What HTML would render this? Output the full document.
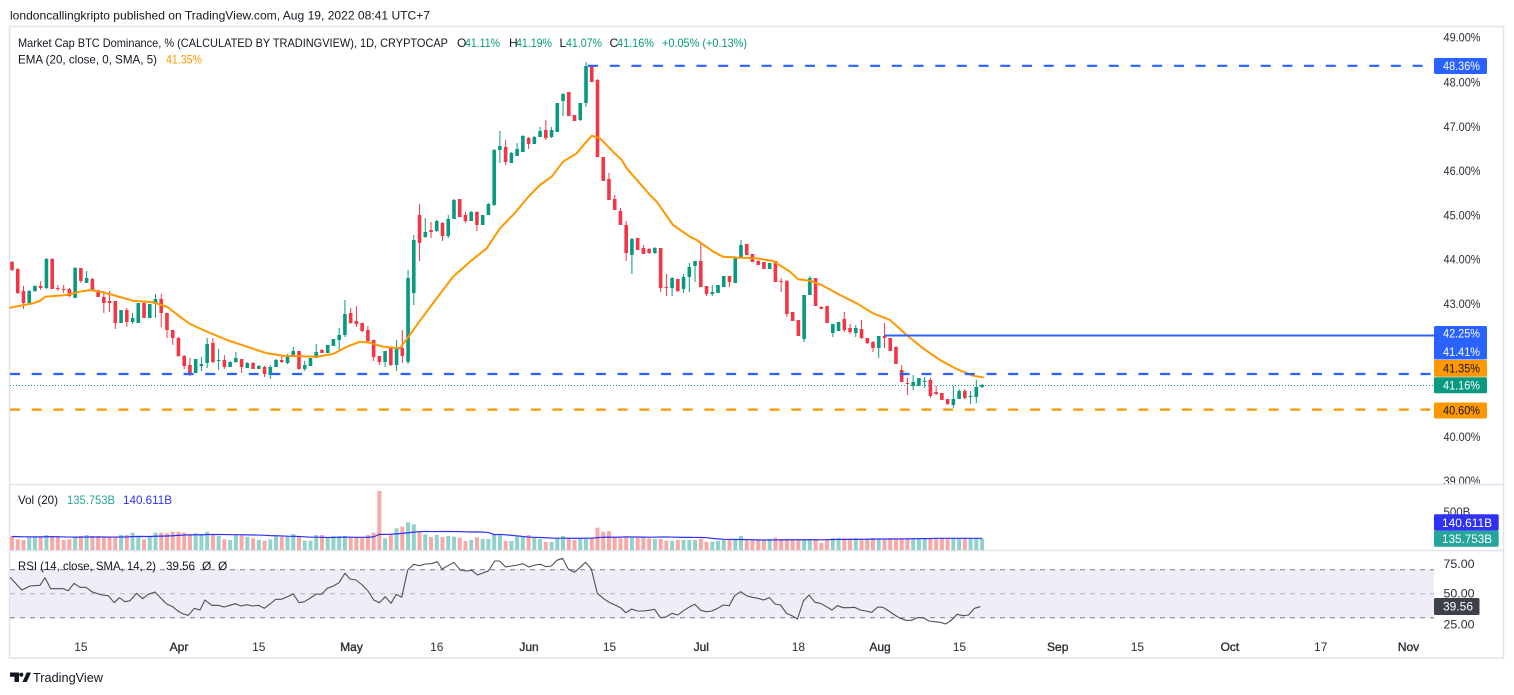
<!DOCTYPE html>
<html><head><meta charset="utf-8">
<style>
html,body{margin:0;padding:0;background:#fff;}
svg{display:block;}
text{font-family:"Liberation Sans",Arial,sans-serif;}
</style></head>
<body>
<svg id="c" width="1514" height="695" viewBox="0 0 1514 695" xmlns="http://www.w3.org/2000/svg">
<rect x="0" y="0" width="1514" height="695" fill="#ffffff"/>
<text x="10" y="19.3" font-size="12" fill="#131722" textLength="420" lengthAdjust="spacingAndGlyphs">londoncallingkripto published on TradingView.com, Aug 19, 2022 08:41 UTC+7</text>
<rect x="9.5" y="26.5" width="1494" height="631.5" fill="none" stroke="#e0e3eb" stroke-width="1.5"/>
<line x1="9.5" y1="484.5" x2="1503.5" y2="484.5" stroke="#e0e3eb" stroke-width="1.5"/>
<line x1="9.5" y1="550.5" x2="1503.5" y2="550.5" stroke="#e0e3eb" stroke-width="1.5"/>
<rect x="10" y="569.7" width="1424" height="48" fill="#f0edf8"/>
<line x1="10" y1="569.7" x2="1434" y2="569.7" stroke="#787b86" stroke-width="1" stroke-dasharray="5,5"/>
<line x1="10" y1="593.7" x2="1434" y2="593.7" stroke="#b2b5be" stroke-width="1" stroke-dasharray="5,5"/>
<line x1="10" y1="617.7" x2="1434" y2="617.7" stroke="#787b86" stroke-width="1" stroke-dasharray="5,5"/>
<g id="dyn"></g>
<text x="18" y="47" font-size="12" fill="#131722" textLength="430" lengthAdjust="spacingAndGlyphs">Market Cap BTC Dominance, % (CALCULATED BY TRADINGVIEW), 1D, CRYPTOCAP</text>
<text x="457" y="47" font-size="12" fill="#131722">O</text>
<text x="465" y="47" font-size="12" fill="#089981" textLength="35" lengthAdjust="spacingAndGlyphs">41.11%</text>
<text x="509" y="47" font-size="12" fill="#131722">H</text>
<text x="516" y="47" font-size="12" fill="#089981" textLength="36" lengthAdjust="spacingAndGlyphs">41.19%</text>
<text x="559.5" y="47" font-size="12" fill="#131722">L</text>
<text x="566" y="47" font-size="12" fill="#089981" textLength="36" lengthAdjust="spacingAndGlyphs">41.07%</text>
<text x="609.5" y="47" font-size="12" fill="#131722">C</text>
<text x="617" y="47" font-size="12" fill="#089981" textLength="37" lengthAdjust="spacingAndGlyphs">41.16%</text>
<text x="662" y="47" font-size="12" fill="#089981" textLength="85" lengthAdjust="spacingAndGlyphs">+0.05% (+0.13%)</text>
<text x="18" y="63.5" font-size="12" fill="#131722" textLength="139" lengthAdjust="spacingAndGlyphs">EMA (20, close, 0, SMA, 5)</text>
<text x="166" y="63.5" font-size="12" fill="#ff9800" textLength="36" lengthAdjust="spacingAndGlyphs">41.35%</text>
<text x="18" y="504" font-size="12" fill="#131722" textLength="40" lengthAdjust="spacingAndGlyphs">Vol (20)</text>
<text x="67" y="504" font-size="12" fill="#26a69a" textLength="48" lengthAdjust="spacingAndGlyphs">135.753B</text>
<text x="123" y="504" font-size="12" fill="#3131f5" textLength="49" lengthAdjust="spacingAndGlyphs">140.611B</text>
<text x="18" y="570" font-size="12" fill="#131722" textLength="138" lengthAdjust="spacingAndGlyphs">RSI (14, close, SMA, 14, 2)</text>
<text x="166" y="570" font-size="12" fill="#131722" textLength="29" lengthAdjust="spacingAndGlyphs">39.56</text>
<text x="202" y="570" font-size="12" fill="#131722">Ø</text>
<text x="218" y="570" font-size="12" fill="#131722">Ø</text>
<g font-size="11.5" fill="#2a2e39">
<text x="1443.5" y="41.5" textLength="37" lengthAdjust="spacingAndGlyphs">49.00%</text>
<text x="1443.5" y="86.5" textLength="37" lengthAdjust="spacingAndGlyphs">48.00%</text>
<text x="1443.5" y="130.8" textLength="37" lengthAdjust="spacingAndGlyphs">47.00%</text>
<text x="1443.5" y="175.1" textLength="37" lengthAdjust="spacingAndGlyphs">46.00%</text>
<text x="1443.5" y="219.4" textLength="37" lengthAdjust="spacingAndGlyphs">45.00%</text>
<text x="1443.5" y="263.7" textLength="37" lengthAdjust="spacingAndGlyphs">44.00%</text>
<text x="1443.5" y="308" textLength="37" lengthAdjust="spacingAndGlyphs">43.00%</text>
<text x="1443.5" y="440.9" textLength="37" lengthAdjust="spacingAndGlyphs">40.00%</text>
</g>
<svg x="1434" y="470" width="70" height="13.5" overflow="hidden"><text x="9.5" y="15.2" font-size="11.5" fill="#2a2e39" textLength="37" lengthAdjust="spacingAndGlyphs">39.00%</text></svg>
<rect x="1434" y="58" width="53" height="16" rx="1.5" fill="#2962ff"/>
<text x="1443" y="70.2" font-size="11.5" fill="#fff" textLength="37" lengthAdjust="spacingAndGlyphs">48.36%</text>
<rect x="1434" y="326" width="53" height="33.5" rx="1.5" fill="#2962ff"/>
<text x="1443" y="337.6" font-size="11.5" fill="#fff" textLength="37" lengthAdjust="spacingAndGlyphs">42.25%</text>
<text x="1443" y="356" font-size="11.5" fill="#fff" textLength="37" lengthAdjust="spacingAndGlyphs">41.41%</text>
<rect x="1434" y="360" width="53" height="16.7" rx="1.5" fill="#ff9800"/>
<text x="1443" y="372.5" font-size="11.5" fill="#131722" textLength="37" lengthAdjust="spacingAndGlyphs">41.35%</text>
<rect x="1434" y="377.3" width="53" height="16" rx="1.5" fill="#089981"/>
<text x="1443" y="389.6" font-size="11.5" fill="#fff" textLength="37" lengthAdjust="spacingAndGlyphs">41.16%</text>
<rect x="1434" y="402.5" width="53" height="16" rx="1.5" fill="#ff9800"/>
<text x="1443" y="414.5" font-size="11.5" fill="#131722" textLength="37" lengthAdjust="spacingAndGlyphs">40.60%</text>
<text x="1443.5" y="516" font-size="11.5" fill="#2a2e39">500B</text>
<rect x="1434" y="514.3" width="64.7" height="16.4" rx="1.5" fill="#3131f5"/>
<text x="1442" y="526.8" font-size="11.5" fill="#fff" textLength="50" lengthAdjust="spacingAndGlyphs">140.611B</text>
<rect x="1434" y="530.7" width="64.7" height="16" rx="1.5" fill="#26a69a"/>
<text x="1442" y="542.9" font-size="11.5" fill="#fff" textLength="50" lengthAdjust="spacingAndGlyphs">135.753B</text>
<text x="1443.5" y="567.8" font-size="11.5" fill="#2a2e39" textLength="31" lengthAdjust="spacingAndGlyphs">75.00</text>
<text x="1443.5" y="597.6" font-size="11.5" fill="#2a2e39" textLength="31" lengthAdjust="spacingAndGlyphs">50.00</text>
<text x="1443.5" y="628.3" font-size="11.5" fill="#2a2e39" textLength="31" lengthAdjust="spacingAndGlyphs">25.00</text>
<rect x="1434" y="598" width="45.5" height="17" rx="1.5" fill="#3d3f49"/>
<text x="1443" y="610.7" font-size="11.5" fill="#fff" textLength="30" lengthAdjust="spacingAndGlyphs">39.56</text>
<g id="xax" font-size="12" fill="#2a2e39" text-anchor="middle"></g>
<path d="M10 672.5 h9 v9.5 h-4.5 v-5.3 h-4.5z" fill="#131722"/>
<circle cx="21.3" cy="674.7" r="2.1" fill="#131722"/>
<polygon points="22.5,682 26.8,682 31,672.5 26.7,672.5" fill="#131722"/>
<text x="33" y="682" font-size="13" fill="#131722" textLength="70" lengthAdjust="spacingAndGlyphs">TradingView</text>
</svg>
<script>
const C=[
[262,270,261,271],[269,293,268,294],[291,303,286,309],[303,291,290,304],[291,286,285,292],
[286,288,281,290],[288,259,258,289],[259,289,258,289],[288,289,285,291],[289,290,285,293],
[289,296,288,297],[298,268,267,298],[268,281,268,283],[283,278,271,283],[279,291,278,291],
[290,297,290,297],[297,303,291,313],[301,303,291,312],[301,323,301,329],[323,310,310,323],
[310,322,308,327],[322,318,313,324],[323,303,303,323],[303,318,303,318],[318,304,304,318],
[304,299,294,318],[299,313,294,327],[313,330,313,338],[330,338,330,345],[338,356,337,357],
[356,366,355,369],[365,373,358,376],[373,359,359,373],[366,364,357,371],[363,344,338,368],
[343,362,338,363],[361,360,349,370],[360,367,355,369],[367,362,361,367],[362,358,352,363],
[359,367,359,373],[368,363,362,368],[363,369,362,369],[369,366,365,369],[367,374,366,377],
[375,367,365,379],[367,360,359,367],[360,362,356,363],[363,356,354,364],[356,351,347,356],
[351,369,351,370],[369,365,361,371],[366,358,358,366],[358,352,344,358],[350,353,349,353],
[353,345,345,353],[346,339,339,346],[340,335,328,350],[335,314,300,337],[313,323,308,324],
[321,324,306,327],[323,331,323,332],[330,341,326,342],[340,357,340,361],[356,362,356,365],
[362,351,351,367],[348,365,348,366],[365,348,340,371],[348,356,330,363],[362,278,270,364],
[293,240,235,305],[215,243,204,261],[237,232,218,238],[230,232,222,238],[231,221,220,232],
[223,236,222,241],[236,219,215,238],[219,200,199,219],[199,217,199,217],[215,221,212,223],
[221,212,211,221],[212,225,211,231],[225,215,215,225],[215,204,203,215],[205,150,149,206],
[150,146,131,163],[147,162,140,165],[163,153,152,163],[156,149,143,156],[152,136,135,152],
[138,144,137,149],[144,137,136,144],[137,131,127,137],[130,138,120,140],[137,130,127,138],
[132,103,103,132],[101,94,93,116],[92,116,92,116],[115,121,115,121],[120,103,103,121],
[103,66,62,107],[66,82,66,82],[80,157,79,157],[157,181,157,181],[179,200,173,200],
[199,210,195,210],[211,225,208,225],[225,253,221,261],[255,239,238,274],[238,250,238,250],
[248,254,245,254],[249,253,248,254],[253,248,247,254],[248,288,248,292],[287,288,274,296],
[288,278,277,296],[279,291,279,292],[289,277,274,293],[277,267,263,292],[266,261,261,282],
[261,287,243,287],[286,294,286,296],[294,292,285,296],[293,285,285,293],[287,276,276,287],
[276,282,276,287],[283,257,257,283],[257,245,240,257],[244,255,244,255],[254,262,254,262],
[261,265,260,265],[262,269,262,269],[269,263,263,269],[261,282,261,282],[281,282,278,292],
[281,314,280,317],[312,321,312,321],[320,336,320,336],[339,295,295,342],[295,278,276,295],
[278,306,278,306],[307,309,306,309],[306,323,306,323],[333,324,324,337],[331,322,322,331],
[319,330,312,332],[328,332,324,334],[333,328,325,337],[329,338,320,339],[338,343,338,344],
[342,348,341,352],[348,336,336,358],[336,338,323,348],[338,351,338,351],[347,364,346,364],
[370,382,365,382],[383,384,378,395],[386,382,375,390],[386,378,378,386],[382,381,377,388],
[380,396,378,398],[392,394,386,395],[393,400,393,400],[399,404,399,405],[405,399,386,408],
[399,391,389,399],[391,398,389,399],[397,396,391,404],[397,387,380,403],[387,385,384,388]];
const V=[536,539.3,540,537.3,536.7,536.7,535,536,536.7,540,
539.3,537.3,536,535,536,536,537.3,537.3,536.7,535,
535,532.7,536,539.3,536,532.7,532.7,533.3,531.7,531.7,
532.7,535,533.3,535,531.7,535,536,539.3,540,535,
535,536.7,538.3,540,540.7,539.3,536,536.7,536.7,534,
536.7,540.7,540.7,535,535,537.3,536,536,536,537.3,
537.3,538.3,535,532.7,491,538.3,535,528.3,526.7,522.3,
524.3,532.7,534.3,537,535,537,536,536.7,537.7,541,
540,537.3,539,539,534.3,535,541,541,536,536,
535,537.7,539,542,542,538.3,536,538.3,540,538.3,
538.3,537.7,527.7,531.7,531,537.7,538.3,536.7,536.7,537.7,
537.7,538.3,539,539,540.7,540.7,540,540,540,540,
539,542,541.7,541,540,540,540,536,540.3,540.3,
540.3,540.3,539,537.7,539,539,540,540,540,540,
539,543,539,538,538,538.5,538.5,538,538.5,538.5,
538,538.5,538.5,538,538.5,538,538.5,538.5,538,538.5,
538.5,538,538.5,538.5,538,538.5,538.5,538,538.5,538.5];
const EMA="10,307.7 33,303.3 40,301 45,296.7 66.7,295 80,291.7 90,290 100,291.7 113,295 133,300.7 153,302.3 167,306.7 180,316.7 190,324 207,331.7 227,340 247,346.7 267,353.3 283,355.7 317,356.7 333,354 347,346.7 360,341.7 370,342.7 383,346.7 400,348.3 420,320.7 431.7,305 453,276.7 470,261.7 486.7,248.3 500,228.3 513,215 530,195 540,185 551.7,176.7 563,161.7 576.7,153.3 585,143.3 591.7,135.7 600,138.3 613,151.7 621.7,160 626.7,168.3 650,195 656.7,201.7 673,225 690,236.7 696.7,240 713.3,251.7 723,256.7 740,257.7 756.7,258.3 773,261 790,271.7 798,279.3 810,280.7 823,285.7 840,295 856.7,303.3 873,313.3 890,320 906.7,335 923,348.3 940,360 956.7,369 973,375.7 983,377.3";
const RSI="10,577.3 21.7,590 30,586 40,585.3 45,577.7 50.7,588.7 63.3,588.7 68.3,590.7 74,583.3 80,587.3 86,587.3 91.7,591.7 101.7,595 108.3,595.7 114.3,602.7 119.3,597.7 125,601.7 130,600.7 136.7,593.3 142.7,598.7 148.3,594.3 155,592 160,597.3 166.7,604 172.7,606.7 177.7,611 183.3,614 188.3,615.3 194.3,608.3 200,610 205,600 211.7,605.3 218.3,605.3 224,607 230,605.3 235.3,603.7 241,606 246.7,604.7 252.7,606 258.3,605.3 264.3,608.3 270,604 275.7,599.3 281.7,599.3 287.3,596.7 293.3,594 299,602.7 304.3,601.7 310,598.3 316,594 321.7,594.3 327.3,588.3 333.3,586 339,582.7 345,573.3 350,579 356,580 362.3,585 368,591 373.7,600 379.3,602.7 385.3,596.7 391,603.3 396.3,594.3 401.7,597.3 407.7,570 413.6,564.3 419.5,565.7 425.4,564 431.4,563.7 437.3,561.7 442,569 448,565.7 453.9,562.3 460.2,570 466.1,571 471.6,570.3 477.6,575 483.5,572.7 488.6,570.7 494.6,561 499.7,561 505.6,567 511.5,566 517.5,565 523,563.7 528.9,567 534.8,565 540.4,564.3 545.9,566.7 551.4,566 557,560.3 562.5,558.3 568.4,569.3 574.3,572.3 579.9,567.7 585.4,562.3 591.3,569 597.3,593.3 603.2,598.3 609.1,602.3 615,605 620.6,607.7 625.7,612.7 631.6,609 637.5,611 643.5,611 649,610.3 654.5,609.3 660.5,617.7 666,617 671.9,613.3 677.8,615 683.4,610.7 688.9,607.3 694.8,604.3 700.7,610.3 706.3,611.7 711.8,611 717.7,608.3 723.3,605 729.2,605.7 734.7,595.7 740.6,591.7 746.6,595.7 752.1,597.3 758,598.3 763.5,600 769.5,597.7 775,604 780.5,605 786.5,613.3 792,615.7 797.5,619 803.4,601 809,595 814.9,602.3 820.4,603.3 826.4,606.7 831.9,610 837.4,605.7 843.3,607.7 848.9,607.7 854.4,607.3 860.3,610 865.9,611 871.8,612.3 877.7,607 882.8,607.3 888.8,611 894.7,615 900.2,618.3 906.1,620.3 911.7,620.3 917.2,617.7 923.1,617.7 929,621 934.6,621.7 940.1,622.3 945.6,624 951.6,620 957.1,614.3 963,615.7 968.6,615 974.5,608.3 980.5,606.7";
const X0=12,DX=5.74,BASE=550;
let h='';
V.forEach((t,i)=>{const x=X0+i*DX;const c=C[i];const up=c[1]<c[0];
 h+=`<rect x="${(x-2).toFixed(2)}" y="${t}" width="4" height="${(BASE-t).toFixed(2)}" fill="${up?'#92d2cc':'#f7a9a7'}"/>`;});
let pts=[];
for(let i=0;i<V.length;i++){let s=0;for(let k=i-19;k<=i;k++){s+=k<0?13.5:(BASE-V[k]);}pts.push((X0+i*DX).toFixed(2)+','+(BASE-s/20).toFixed(2));}
h+=`<polyline points="${pts.join(' ')}" fill="none" stroke="#3131f5" stroke-width="1.2"/>`;
h+=`<polyline points="${RSI}" fill="none" stroke="#4e4f5a" stroke-width="1.1" stroke-linejoin="round"/>`;
C.forEach((c,i)=>{const x=X0+i*DX;let [o,cl,hi,lo]=c;const up=cl<o;const col=up?'#089981':'#f23645';
 const top=Math.min(o,cl),bot=Math.max(o,cl);hi=Math.min(hi,top);lo=Math.max(lo,bot);
 h+=`<line x1="${x.toFixed(2)}" x2="${x.toFixed(2)}" y1="${hi}" y2="${lo}" stroke="${col}" stroke-width="1"/>`;
 h+=`<rect x="${(x-1.8).toFixed(2)}" y="${top}" width="3.6" height="${Math.max(bot-top,1)}" fill="${col}"/>`;});
h+=`<polyline points="${EMA}" fill="none" stroke="#ff9800" stroke-width="2" stroke-linejoin="round" stroke-linecap="round"/>`;
h+=`<line x1="10" y1="385.5" x2="1434" y2="385.5" stroke="#089981" stroke-width="1" stroke-dasharray="1,2"/>`;
h+=`<line x1="588" y1="65.8" x2="1434" y2="65.8" stroke="#2962ff" stroke-width="2.2" stroke-dasharray="10,11.7"/>`;
h+=`<line x1="10" y1="374" x2="1434" y2="374" stroke="#2962ff" stroke-width="2.2" stroke-dasharray="10,11.7"/>`;
h+=`<line x1="10" y1="409.6" x2="1434" y2="409.6" stroke="#ff9800" stroke-width="2.2" stroke-dasharray="10,11.7"/>`;
h+=`<line x1="885" y1="335.5" x2="1434" y2="335.5" stroke="#2962ff" stroke-width="2"/>`;
document.getElementById('dyn').innerHTML=h;
const L=[["15",80.9,0],["Apr",179,1],["15",258.8,0],["May",351.5,1],["16",436.8,0],["Jun",529,1],["15",609.5,0],["Jul",701.3,1],["18",798.4,0],["Aug",880,1],["15",959.4,0],["Sep",1057.7,1],["15",1137.4,0],["Oct",1229.9,1],["17",1320.7,0],["Nov",1408.5,1]];
let xs='';
L.forEach(l=>{xs+=`<text x="${l[1]}" y="651" ${l[2]?'stroke="#2a2e39" stroke-width="0.35"':''}>${l[0]}</text>`;});
document.getElementById('xax').innerHTML=xs;
</script>
</body></html>
